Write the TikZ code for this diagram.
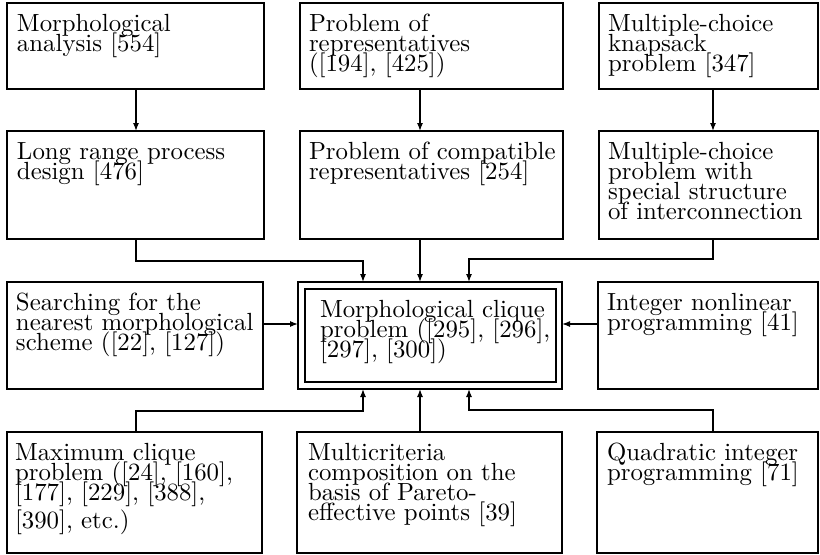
\documentclass[tikz,border=0pt]{standalone}
\usetikzlibrary{arrows.meta}
\def\U{0.415}
\newdimen\px \px=0.415pt
\newcommand{\boxtxt}[4]{\parbox[c][#2\px][t]{#1\px}{\fontsize{10.3}{8.3}\selectfont\lineskiplimit=-100pt\lineskip=0pt\raggedright\leftskip=#3\px\rule{0pt}{28\px}#4}}
\tikzset{
  box/.style={draw, line width=1.6*\U pt, anchor=north west, inner sep=0pt, outer sep=0pt},
  conn/.style={line width=1.2*\U pt, -{Latex[length=8*\U pt,width=6*\U pt]}},
}
\newcommand{\bx}[7]{\node[box, minimum width=#4*\U pt, minimum height=#5*\U pt] (#1) at (#2,#3) {\boxtxt{#4}{#5}{#6}{#7}};}
\begin{document}
\begin{tikzpicture}[x=\U pt,y=-\U pt]
\useasboundingbox (0,0) rectangle (820,554);
% row 1
\bx{ma}{7}{3}{257}{86}{10}{Morphological\\analysis [554]}
\bx{pr}{300}{3}{263}{86}{9}{Problem of\\representatives\\([194], [425])}
\bx{mk}{599}{3}{219}{86}{9}{Multiple-choice\\knapsack\\problem [347]}
% row 2
\bx{lr}{7}{131}{257}{108}{10}{Long range process\\design [476]}
\bx{pc}{300}{131}{263}{108}{9}{Problem of compatible\\representatives [254]}
\bx{mp}{599}{131}{219}{108}{9}{Multiple-choice\\problem with\\special structure\\of interconnection}
% row 3
\bx{sn}{7}{282}{256}{107}{9}{Searching for the\\nearest morphological\\scheme ([22], [127])}
\node[box, minimum width=264*\U pt, minimum height=107*\U pt] (mc) at (298,282) {};
\bx{mci}{305}{289}{251}{93}{15}{Morphological clique\\problem ([295], [296],\\{}[297], [300])}
\bx{in}{598}{282}{220}{107}{9}{Integer nonlinear\\programming [41]}
% row 4
\bx{mx}{7}{432}{255}{121}{8}{Maximum clique\\problem ([24], [160],\\{}[177], [229], [388],\\[8\px][390], etc.)}
\bx{mu}{297}{432}{265}{121}{11}{Multicriteria\\composition on the\\basis of Pareto-\\effective points [39]}
\bx{qi}{597}{432}{221}{121}{10}{Quadratic integer\\programming [71]}
% guide coordinates
\coordinate (cA) at (136,0);
\coordinate (cB) at (420,0);
\coordinate (cC) at (713,0);
\coordinate (cL) at (363,0);
\coordinate (cR) at (469,0);
\coordinate (yM) at (0,324);
% connectors
\draw[conn] (ma.south -| cA) -- (lr.north -| cA);
\draw[conn] (pr.south -| cB) -- (pc.north -| cB);
\draw[conn] (mk.south -| cC) -- (mp.north -| cC);
\draw[conn] (lr.south -| cA) -- ++(0,22) -| (mc.north -| cL);
\draw[conn] (pc.south -| cB) -- (mc.north -| cB);
\draw[conn] (mp.south -| cC) -- ++(0,20) -| (mc.north -| cR);
\draw[conn] (sn.east |- yM) -- (mc.west |- yM);
\draw[conn] (in.west |- yM) -- (mc.east |- yM);
\draw[conn] (mx.north -| cA) -- ++(0,-21) -| (mc.south -| cL);
\draw[conn] (mu.north -| cB) -- (mc.south -| cB);
\draw[conn] (qi.north -| cC) -- ++(0,-22) -| (mc.south -| cR);
\end{tikzpicture}
\end{document}
